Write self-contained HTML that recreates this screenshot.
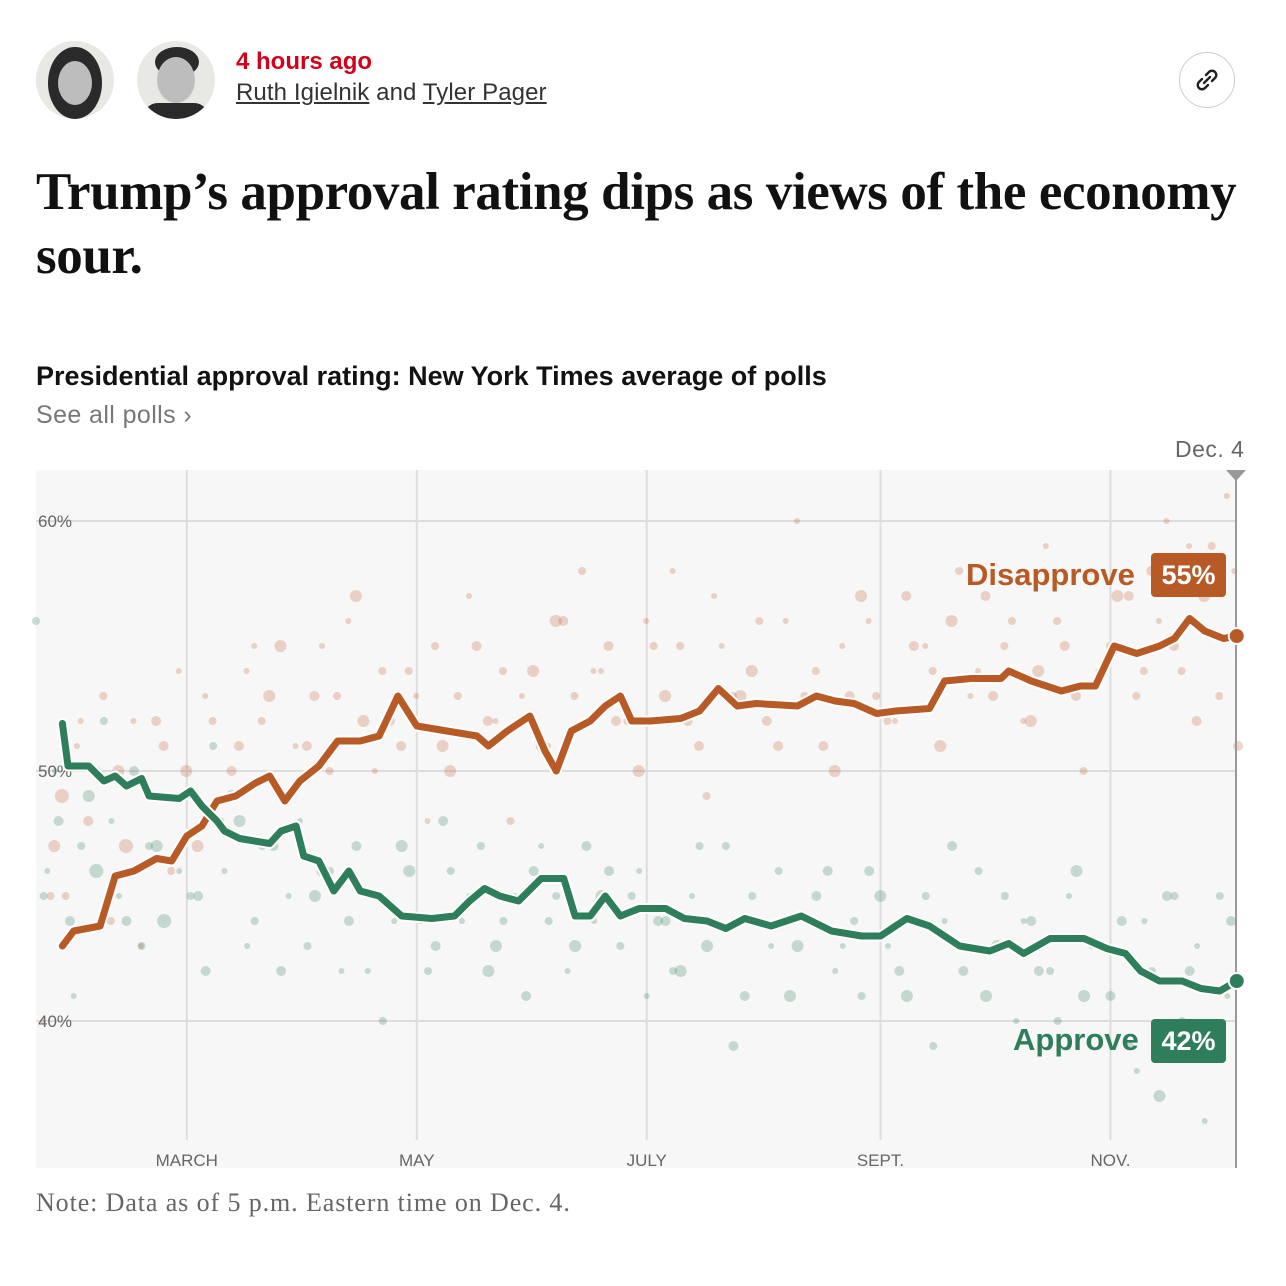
<!DOCTYPE html>
<html><head><meta charset="utf-8">
<style>
body{margin:0;width:1286px;height:1286px;background:#fff;position:relative;overflow:hidden;font-family:"Liberation Sans",Arial,sans-serif}
.abs{position:absolute;white-space:nowrap}
.avatar{position:absolute;width:78px;height:78px;border-radius:50%;background:#e8e8e4;overflow:hidden}
.head{position:absolute;border-radius:50%;background:#2a2a2a}
.face{position:absolute;border-radius:50%;background:#bdbdbd}
</style></head><body>
<div class="avatar" style="left:36px;top:41px"><div class="head" style="left:12px;top:6px;width:54px;height:72px"></div><div class="face" style="left:22px;top:20px;width:34px;height:44px"></div></div>
<div class="avatar" style="left:137px;top:41px"><div class="head" style="left:18px;top:6px;width:44px;height:30px"></div><div class="face" style="left:20px;top:16px;width:38px;height:46px"></div><div class="head" style="left:6px;top:62px;width:66px;height:30px;border-radius:20px"></div></div>
<div class="abs" style="left:236px;top:48px;font-size:24px;font-weight:bold;color:#d0021b">4 hours ago</div>
<div class="abs" style="left:236px;top:79px;font-size:24px;color:#333;letter-spacing:0.1px"><span style="text-decoration:underline">Ruth Igielnik</span> and <span style="text-decoration:underline">Tyler Pager</span></div>
<div style="position:absolute;left:1179px;top:52px;width:54px;height:54px;border:1px solid #ccc;border-radius:50%">
<svg width="54" height="54" viewBox="0 0 54 54"><g fill="none" stroke="#222" stroke-width="2.4" stroke-linecap="round"><path d="M24 30 l6 -6"/><path d="M22 26 l-3 3 a4 4 0 0 0 6 6 l3 -3"/><path d="M32 28 l3 -3 a4 4 0 0 0 -6 -6 l-3 3"/></g></svg></div>
<div class="abs" style="left:36px;top:160px;width:1240px;white-space:normal;font-family:'Liberation Serif',serif;font-weight:bold;font-size:53px;line-height:64px;color:#111;letter-spacing:-0.4px">Trump’s approval rating dips as views of the economy sour.</div>
<div class="abs" style="left:36px;top:361px;font-size:27px;font-weight:bold;color:#121212;letter-spacing:0px">Presidential approval rating: New York Times average of polls</div>
<div class="abs" style="left:36px;top:401px;font-size:25px;color:#777;letter-spacing:0.4px">See all polls ›</div>
<div class="abs" style="left:1175px;top:436px;font-size:23px;color:#666;letter-spacing:0.5px">Dec. 4</div>
<div class="abs" style="left:36px;top:1188px;font-family:'Liberation Serif',serif;font-size:26px;color:#666;letter-spacing:0.9px">Note: Data as of 5 p.m. Eastern time on Dec. 4.</div>
<svg id="chart" style="position:absolute;left:0;top:0" width="1286" height="1286"></svg>
<div class="abs" style="left:966px;top:557px;font-size:31px;font-weight:bold;color:#b85a26">Disapprove</div>
<div class="abs" style="left:1151px;top:553px;width:75px;height:44px;background:#b85a26;border-radius:4px;color:#fff;font-size:27px;font-weight:bold;text-align:center;line-height:44px">55%</div>
<div class="abs" style="left:1013px;top:1022px;font-size:31px;font-weight:bold;color:#2e7d5b">Approve</div>
<div class="abs" style="left:1151px;top:1019px;width:75px;height:44px;background:#2e7d5b;border-radius:4px;color:#fff;font-size:27px;font-weight:bold;text-align:center;line-height:44px">42%</div>
<script>
const approveDays=[7,8.5,14,18,21,24,28,30,38,41,44,48,50,54,62,65,69,71,75,79,83,86,91,97,105,111,115,119,123,128,134,140,143,147,151,155,160,167,172,178,183,188,195,203,211,219,224,231,237,245,253,258,262,269,278,284,289,293,298,304,309,314,318.5];
const approveVals=[51.9,50.2,50.2,49.6,49.8,49.4,49.7,49.0,48.9,49.2,48.6,48.0,47.6,47.3,47.1,47.6,47.8,46.6,46.4,45.2,46.0,45.2,45.0,44.2,44.1,44.2,44.8,45.3,45.0,44.8,45.7,45.7,44.2,44.2,45.0,44.2,44.5,44.5,44.1,44.0,43.7,44.1,43.8,44.2,43.6,43.4,43.4,44.1,43.8,43.0,42.8,43.1,42.7,43.3,43.3,42.9,42.7,42.0,41.6,41.6,41.3,41.2,41.6];
const disDays=[7,10,17,21,26,32,36,40,44,48,53,58,62,66,70,75,80,86,91,96,101,109,117,120,125,131,135,138,142,147,151,155,158,163,171,176,181,186,191,202,207,212,217,223,228,237,241,248,256,258,264,272,277,281,286,292,298,302,306,310,315,318.5];
const disVals=[43.0,43.6,43.8,45.8,46.0,46.5,46.4,47.4,47.8,48.8,49.0,49.5,49.8,48.8,49.6,50.2,51.2,51.2,51.4,53.0,51.8,51.6,51.4,51.0,51.6,52.2,50.8,50.0,51.6,52.0,52.6,53.0,52.0,52.0,52.1,52.4,53.3,52.6,52.7,52.6,53.0,52.8,52.7,52.3,52.4,52.5,53.6,53.7,53.7,54.0,53.6,53.2,53.4,53.4,55.0,54.7,55.0,55.3,56.1,55.6,55.3,55.4];
const pollDays=[0,3,6,10,14,18,22,26,30,34,38,43,47,52,56,60,65,70,74,78,83,88,92,97,102,106,110,115,120,124,130,134,138,143,148,152,158,162,167,171,176,180,185,190,195,200,205,210,214,219,224,229,234,238,243,248,252,257,262,266,271,276,280,285,290,294,298,302,306,310,314,317];
const pollApprove=[56,46,48,41,49,52,45,50,47,44,46,45,51,49,43,47,42,48,45,46,44,42,40,47,44,43,46,45,42,44,41,47,45,43,44,46,45,41,44,42,47,44,39,45,43,41,44,46,43,41,45,42,44,39,47,43,41,45,44,42,40,46,43,41,39,44,37,45,42,36,45,44];
const pollDisapprove=[40,47,45,52,50,44,47,43,52,46,50,53,48,51,55,53,49,51,55,53,57,50,52,54,48,51,53,55,52,48,54,51,56,58,54,52,50,55,58,52,49,55,53,56,51,60,54,50,53,56,52,57,55,51,58,54,53,56,52,59,55,50,54,57,53,58,60,54,52,59,61,51];
const pollDays2=[2,5,9,12,16,20,24,28,32,36,41,45,50,54,58,63,67,72,76,81,85,90,95,99,104,108,113,118,122,127,132,136,141,146,150,155,160,165,169,174,178,183,188,192,197,202,207,212,217,221,226,231,236,241,246,250,255,260,264,269,274,278,283,288,292,296,300,304,308,312,316];
const pollApprove2=[45,50,44,47,46,48,44,43,47,49,45,42,46,48,44,47,45,43,46,42,47,45,44,46,42,48,44,47,43,45,46,44,42,47,45,43,46,44,42,45,43,47,41,44,46,43,45,42,44,46,43,41,45,44,42,46,43,40,44,42,45,41,43,44,38,42,45,40,43,39,41];
const pollDisapprove2=[45,49,51,48,53,50,52,49,51,54,47,52,50,54,52,55,51,53,50,56,52,54,51,53,55,50,57,52,54,53,51,56,53,54,55,52,56,53,55,51,57,53,54,52,56,53,51,55,57,53,52,55,54,56,53,57,55,52,54,56,53,58,55,57,54,56,55,59,57,53,58];
const pollSize=[4,3,5,3,6,4,3,5,4,7,3,5,4,6,3,4,5,3,6,4,5,3,4,6,3,5,4,3,6,4,5,3,4,6,3,5,4,3,5,6,4,3,5,4,3,6,4,5,3,4,6,5,3,4,5,3,6,4,3,5,4,6,3,5,4,3,6,4,5,3,4,5];
const yTicks=[60,50,40];
const monthLabels=['MARCH','MAY','JULY','SEPT.','NOV.'];
const monthDays=[40,101,162,224,285];

const X0=36,X1=1236,Y0=470,Y1=1168;
const dayPx=3.77;
const x=d=>X0+d*dayPx;
const y=v=>521+(60-v)*25;
const svg=document.getElementById('chart');
const NS='http://www.w3.org/2000/svg';
function mk(tag,attrs){const e=document.createElementNS(NS,tag);for(const k in attrs)e.setAttribute(k,attrs[k]);svg.appendChild(e);return e;}
let bg=mk('rect',{x:X0,y:Y0,width:X1-X0,height:Y1-Y0,fill:'#f7f7f7'});


yTicks.forEach(t=>{
 const l=mk('line',{x1:X0,x2:X1,y1:y(t),y2:y(t),stroke:'#ddd','stroke-width':2});
 
 
});
monthDays.forEach((d,i)=>{
 const l=mk('line',{x1:x(d),x2:x(d),y1:Y0,y2:1140,stroke:'#ddd','stroke-width':2});
 
 
 const t=mk('text',{x:x(d),y:1166,'text-anchor':'middle','font-size':17,fill:'#666','font-family':'Liberation Sans, sans-serif'});
 t.textContent=monthLabels[i];
 
 
});
function dots(days,av,dv,shift){
 days.forEach((d,i)=>{
  const a=mk('circle',{cx:x(d),cy:y(av[i]),r:pollSize[(i+shift)%pollSize.length],fill:'#2e7d5b','fill-opacity':0.25});
  
  
  const b=mk('circle',{cx:x(d)+7,cy:y(dv[i]),r:pollSize[(i+3+shift)%pollSize.length],fill:'#c0582a','fill-opacity':0.25});
  
  
 });
}
dots(pollDays,pollApprove,pollDisapprove,0);
dots(pollDays2,pollApprove2,pollDisapprove2,5);
yTicks.forEach(t=>{
 const tx=mk('text',{x:38,y:y(t)+6,'font-size':17,fill:'#666','font-family':'Liberation Sans, sans-serif'});
 tx.textContent=t+'%';
 
 
});
function line(days,vals,color,name){
 const d=days.map((dd,i)=>(i?'L':'M')+x(dd).toFixed(1)+' '+y(vals[i]).toFixed(1)).join(' ');
 mk('path',{d,fill:'none',stroke:'#fff','stroke-width':11,'stroke-linejoin':'round','stroke-linecap':'round'});
 const p=mk('path',{d,fill:'none',stroke:color,'stroke-width':7,'stroke-linejoin':'round','stroke-linecap':'round'});
 
 
}
const endLine=mk('line',{x1:X1,x2:X1,y1:Y0,y2:Y1,stroke:'#999','stroke-width':2});


const tri=mk('path',{d:`M${X1-10} ${Y0} L${X1+10} ${Y0} L${X1} ${Y0+11} Z`,fill:'#999'});


line(disDays,disVals,'#b85a26','disapprove-line');
line(approveDays,approveVals,'#2e7d5b','approve-line');
const e1=mk('circle',{cx:x(disDays[disDays.length-1]),cy:y(disVals[disVals.length-1]),r:8,fill:'#b85a26',stroke:'#fff','stroke-width':2});


const e2=mk('circle',{cx:x(approveDays[approveDays.length-1]),cy:y(approveVals[approveVals.length-1]),r:8,fill:'#2e7d5b',stroke:'#fff','stroke-width':2});


</script>
</body></html>
